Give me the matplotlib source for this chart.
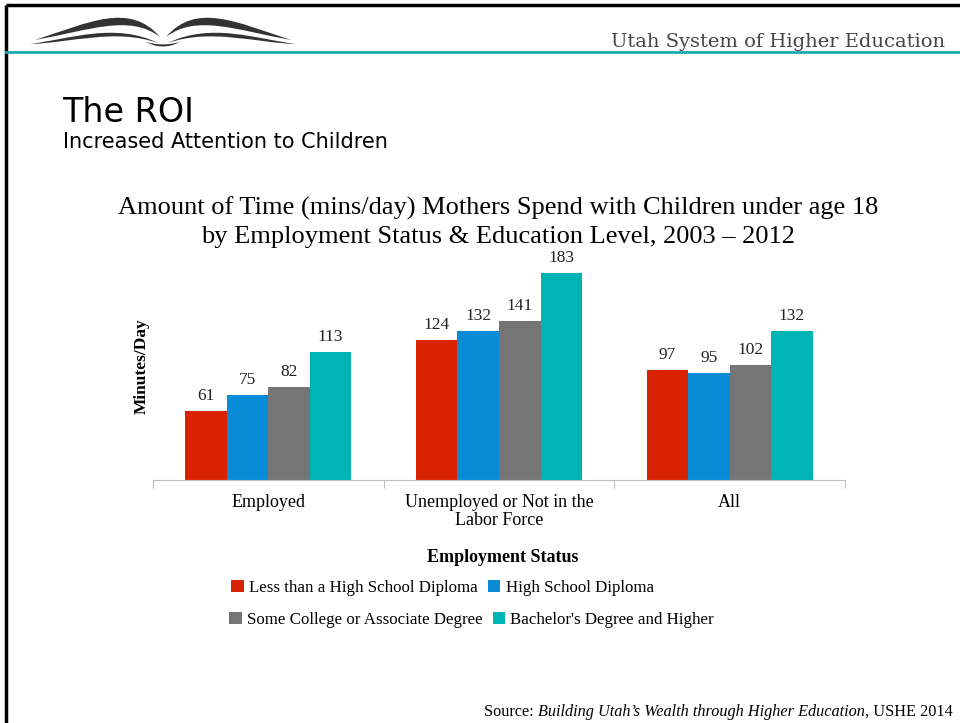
import matplotlib.pyplot as plt
import numpy as np
from matplotlib.path import Path
from matplotlib.patches import PathPatch

# data
categories = ['Employed', 'Unemployed or Not in the\nLabor Force', 'All']
series_names = ['Less than a High School Diploma', 'High School Diploma',
                'Some College or Associate Degree', "Bachelor's Degree and Higher"]
less_hs = [61, 124, 97]
hs_diploma = [75, 132, 95]
some_college = [82, 141, 102]
bachelors = [113, 183, 132]
colors = ['#D92300', '#0A8BD6', '#757575', '#00B3B5']

serif = ['Liberation Serif', 'DejaVu Serif']
fig = plt.figure(figsize=(9.6, 7.23), dpi=100)

# slide background in pixel coords
bg = fig.add_axes([0, 0, 1, 1])
bg.set_xlim(0, 960)
bg.set_ylim(723, 0)
bg.axis('off')

# frame and header line
bg.plot([6, 6], [5, 723], color='black', lw=2.5, solid_capstyle='butt')
bg.plot([6, 960], [5, 5], color='black', lw=2.5, solid_capstyle='butt')
bg.plot([6, 960], [52, 52], color='#1DAAAF', lw=2)

# open-book logo
def wing(outer, inner, mirror=False):
    pts = outer + inner
    if mirror:
        pts = [(326 - x, y) for x, y in pts]
    codes = [Path.MOVETO] + [Path.CURVE4] * 3 + [Path.CURVE4] * 3 + [Path.CLOSEPOLY]
    pts = pts + [pts[0]]
    bg.add_patch(PathPatch(Path(pts, codes), fc='#333333', ec='none'))

up_outer = [(35, 40), (90, 22), (130, 2), (160, 37)]
up_inner = [(130, 14), (90, 30), (35, 40)]
low_outer = [(30, 44), (70, 39), (115, 22), (158, 43)]
low_inner = [(115, 28), (70, 43), (30, 44)]
for m in (False, True):
    wing(up_outer, up_inner, m)
    wing(low_outer, low_inner, m)
mid = Path([(146, 42), (163, 51), (180, 42), (163, 47), (146, 42), (146, 42)],
           [Path.MOVETO, Path.CURVE3, Path.CURVE3, Path.CURVE3, Path.CURVE3, Path.CLOSEPOLY])
bg.add_patch(PathPatch(mid, fc='#333333', ec='none'))

bg.text(945, 47, 'Utah System of Higher Education', ha='right', va='baseline',
        fontsize=14, family='DejaVu Serif', color='#444444')

bg.text(62, 122, 'The ROI', ha='left', va='baseline', fontsize=24,
        family='DejaVu Sans', color='black')
bg.text(63, 148, 'Increased Attention to Children', ha='left', va='baseline',
        fontsize=15, family='DejaVu Sans', color='black')

bg.text(498, 222, 'Amount of Time (mins/day) Mothers Spend with Children under age 18\n'
        'by Employment Status & Education Level, 2003 \u2013 2012',
        ha='center', va='center', fontsize=19, family=serif, linespacing=1.35)

bg.text(142, 366, 'Minutes/Day', rotation=90, ha='center', va='center',
        fontsize=12.5, fontweight='bold', family=serif)
bg.text(503, 557, 'Employment Status', ha='center', va='center',
        fontsize=13, fontweight='bold', family=serif)

# source line, mixed italic
t1 = bg.text(953, 716, ', USHE 2014', ha='right', va='baseline', fontsize=11.7, family=serif)
t2 = bg.annotate('Building Utah\u2019s Wealth through Higher Education', xy=(0, 0),
                 xycoords=t1, ha='right', va='bottom', fontsize=11.7,
                 family=serif, style='italic')
bg.annotate('Source: ', xy=(0, 0), xycoords=t2, ha='right', va='bottom',
            fontsize=11.7, family=serif)

# chart
ax = fig.add_axes([153 / 960, 1 - 480 / 723, 692 / 960, 226 / 723])
ax.patch.set_alpha(0)
x = np.arange(len(categories))
width = 0.18
offsets = [-1.5, -0.5, 0.5, 1.5]
handles = []
for vals, name, c, off in zip([less_hs, hs_diploma, some_college, bachelors],
                               series_names, colors, offsets):
    b = ax.bar(x + off * width, vals, width, color=c, label=name)
    ax.bar_label(b, padding=5, fontsize=12.5, family=serif, color='#222222')
    handles.append(b)

ax.set_xlim(-0.5, 2.5)
ax.set_ylim(0, 200)
ax.set_yticks([])
for s in ['top', 'right', 'left']:
    ax.spines[s].set_visible(False)
ax.spines['bottom'].set_color('#BFBFBF')
ax.set_xticks([-0.5, 0.5, 1.5, 2.5])
ax.set_xticklabels([])
ax.tick_params(axis='x', which='major', length=6, color='#BFBFBF')
ax.set_xticks(x, minor=True)
ax.set_xticklabels(categories, minor=True, fontsize=13, family=serif, linespacing=1.05)
ax.tick_params(axis='x', which='minor', length=0, pad=10)

leg_kw = dict(ncol=2, loc='upper left', frameon=False,
              handlelength=0.75, handleheight=0.75, handletextpad=0.3,
              columnspacing=0.6, borderpad=0, borderaxespad=0,
              bbox_transform=fig.transFigure, prop={'family': serif, 'size': 12.2})
leg1 = ax.legend(handles[:2], series_names[:2], bbox_to_anchor=(231 / 960, 1 - 580 / 723), **leg_kw)
ax.add_artist(leg1)
ax.legend(handles[2:], series_names[2:], bbox_to_anchor=(229 / 960, 1 - 612 / 723), **leg_kw)

fig.savefig('out.png', dpi=100)
